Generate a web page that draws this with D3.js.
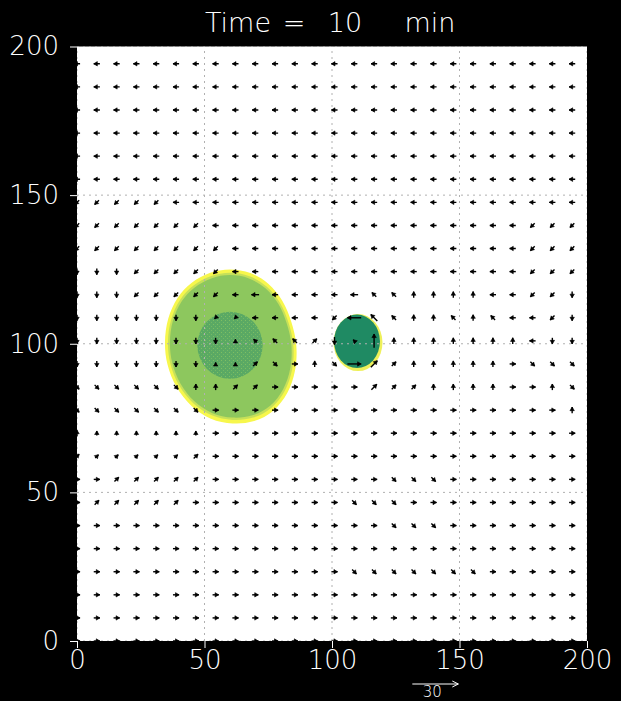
<!DOCTYPE html>
<html><head><meta charset="utf-8">
<script src="https://cdn.jsdelivr.net/npm/d3@7"></script>
<style>html,body{margin:0;padding:0;background:#000;overflow:hidden}</style>
</head><body><svg id="c" width="621" height="701"></svg>
<script>
// ---------- data ----------
const titleParts = ["Time", "=", "10", "min"];
const xTicks = [0, 50, 100, 150, 200];
const yTicks = [0, 50, 100, 150, 200];
const gridStep = 200 / 103 * 4;          // every 4th model point
const nRows = 26;
// direction codes (keypad): 6=E 9=NE 8=N 7=NW 4=W 1=SW 2=S 3=SE ; rows top (y≈194) -> bottom (y=0)
const dirRows = [
  "44444444444444444444444444",
  "44444444444444444444444444",
  "44444444444444444444444444",
  "44444444444444444444444444",
  "44444444444444444444444444",
  "44444444444444444444444444",
  "11111444444444444444444444",
  "11111114444444444444444111",
  "11111111444444444444444111",
  "22211111444444444444444111",
  "22211111444444477888844112",
  "22222221144441477887874412",
  "22222222877792788888888422",
  "22222228893683699888886333",
  "33333388996666699988886683",
  "33333336666666666666666668",
  "88888886666666666666666666",
  "99999996666666666666666666",
  "66999996666666663336666666",
  "69999966666666333666666666",
  "66666666666666663336666666",
  "66666666666666666666666666",
  "66666666666666333333366666",
  "66666666666666666666666666",
  "66666666666666666666666666",
  "66666666666666666666666666"
];
const defaultSpeed = 4;
// [row k (0 = bottom), column, speed]
const speedExceptions = [
  [15, 9, 5], [15, 14, 5], [14, 14, 9], [14, 15, 6], [13, 13, 5], [13, 14, 2],
  [13, 15, 9], [12, 14, 9], [12, 15, 6], [11, 15, 5], [14, 7, 2], [14, 8, 2],
  [13, 8, 2], [12, 7, 2], [12, 8, 2], [13, 9, 3], [9, 1, 3], [9, 2, 3], [9, 3, 3],
  [9, 4, 3], [9, 5, 3], [9, 6, 3], [8, 1, 3], [8, 2, 3], [8, 3, 3], [8, 4, 3], [8, 5, 3]
];
const refSpeed = 30;
const refLabel = "30";
// outer edge of the large cell (x, y in km)
const blobOuter = [[60,125],[68,123.8],[75,120.2],[80.5,114.5],[84,107.5],[86,99.5],[85.5,91],
  [82.5,83.5],[77,77.5],[69.5,74],[61,73.2],[52.5,74.8],[45,79],[39,85.5],[35.5,93],
  [34.5,100.5],[35.8,108.5],[39.5,115.5],[45,120.5],[52,123.8]];
const coreCenter = [60, 99.5], coreRadius = [12.8, 11.3];
const cellCenter = [109.8, 100.8], cellRadius = 9;

// ---------- drawing ----------
const svg = d3.select("#c");
const W = 621, H = 701;
svg.append("rect").attr("width", W).attr("height", H).attr("fill", "#000");
const x = d3.scaleLinear([0, 200], [77, 587]);
const y = d3.scaleLinear([0, 200], [641, 46.5]);
const vecScale = d3.scaleLinear([0, refSpeed], [0, 46]);
const font = "'DejaVu Sans', sans-serif";

// speckle pattern for the core
const defs = svg.append("defs");
const pat = defs.append("pattern").attr("id", "speck").attr("width", 4).attr("height", 4)
  .attr("patternUnits", "userSpaceOnUse");
pat.append("rect").attr("width", 4).attr("height", 4).attr("fill", "#5aa964");
pat.append("rect").attr("x", 1).attr("y", 0).attr("width", 1).attr("height", 1).attr("fill", "#7fbf62");
pat.append("rect").attr("x", 3).attr("y", 2).attr("width", 1).attr("height", 1).attr("fill", "#74b963");

svg.append("rect").attr("x", x(0)).attr("y", y(200)).attr("width", x(200) - x(0))
  .attr("height", y(0) - y(200)).attr("fill", "#fff");
defs.append("clipPath").attr("id", "clip").append("rect")
  .attr("x", x(0)).attr("y", y(200)).attr("width", x(200) - x(0)).attr("height", y(0) - y(200));
const g = svg.append("g").attr("clip-path", "url(#clip)");

// large cell layers
const cx0 = d3.mean(blobOuter, d => d[0]), cy0 = d3.mean(blobOuter, d => d[1]);
const line = d3.line().x(d => x(d[0])).y(d => y(d[1])).curve(d3.curveCatmullRomClosed);
const scaled = s => blobOuter.map(d => [cx0 + (d[0] - cx0) * s, cy0 + (d[1] - cy0) * s]);
[[1, "#f7f74c"], [0.955, "#c6e05a"], [0.925, "#8dc75e"]].forEach(([s, col]) =>
  g.append("path").attr("d", line(scaled(s))).attr("fill", col));
g.append("ellipse").attr("cx", x(coreCenter[0])).attr("cy", y(coreCenter[1]))
  .attr("rx", x(coreRadius[0]) - x(0)).attr("ry", y(0) - y(coreRadius[1])).attr("fill", "url(#speck)");
// small cell
g.append("ellipse").attr("cx", x(cellCenter[0] + 0.4)).attr("cy", y(cellCenter[1] - 0.4))
  .attr("rx", x(cellRadius + 0.6) - x(0)).attr("ry", y(0) - y(cellRadius + 0.6)).attr("fill", "#eef05a");
g.append("ellipse").attr("cx", x(cellCenter[0])).attr("cy", y(cellCenter[1]))
  .attr("rx", x(cellRadius) - x(0)).attr("ry", y(0) - y(cellRadius)).attr("fill", "#1f8a63");

// dotted grid
xTicks.forEach(t => g.append("line").attr("x1", x(t)).attr("x2", x(t)).attr("y1", y(0)).attr("y2", y(200))
  .attr("stroke", "#b0b0b0").attr("stroke-dasharray", "2,4"));
yTicks.forEach(t => g.append("line").attr("y1", y(t)).attr("y2", y(t)).attr("x1", x(0)).attr("x2", x(200))
  .attr("stroke", "#b0b0b0").attr("stroke-dasharray", "2,4"));

// vectors
const angleOf = {"6": 0, "9": 45, "8": 90, "7": 135, "4": 180, "1": 225, "2": 270, "3": 315};
const speedMap = new Map(speedExceptions.map(d => [d[0] + "," + d[1], d[2]]));
const vectors = [];
dirRows.forEach((row, r) => {
  const k = nRows - 1 - r;
  row.split("").forEach((ch, c) => {
    const sp = speedMap.has(k + "," + c) ? speedMap.get(k + "," + c) : defaultSpeed;
    vectors.push({gx: c * gridStep, gy: k * gridStep, ang: angleOf[ch] * Math.PI / 180, sp});
  });
});
function geom(px, py, ang, len) {
  const ux = Math.cos(ang), uy = -Math.sin(ang);
  return {tx: px - ux * len / 2, ty: py - uy * len / 2, hx: px + ux * len / 2, hy: py + uy * len / 2, ux, uy};
}
function shaft(px, py, ang, len) {
  const a = geom(px, py, ang, len);
  return `M${a.tx},${a.ty}L${a.hx},${a.hy}`;
}
function head(px, py, ang, len, hl, hw) {
  const a = geom(px, py, ang, len);
  const bx = a.hx - a.ux * hl, by = a.hy - a.uy * hl;
  const nx = -a.uy * hw, ny = a.ux * hw;
  return `M${a.hx},${a.hy}L${bx + nx},${by + ny}L${bx - nx},${by - ny}Z`;
}
const vg = g.append("g");
vg.selectAll("path.s").data(vectors).join("path").attr("class", "s")
  .attr("d", d => shaft(x(d.gx), y(d.gy), d.ang, vecScale(d.sp)))
  .attr("fill", "none").attr("stroke", "#000").attr("stroke-width", 1.4);
vg.selectAll("path.h").data(vectors).join("path").attr("class", "h")
  .attr("d", d => head(x(d.gx), y(d.gy), d.ang, vecScale(d.sp), 3.6, 2.2))
  .attr("fill", "#000").attr("stroke", "#000").attr("stroke-width", 0.6);

// axes
const ax = svg.append("g").attr("transform", `translate(0,${y(0)})`)
  .call(d3.axisBottom(x).tickValues(xTicks).tickSize(7).tickPadding(3).tickFormat(d3.format("d")));
const ay = svg.append("g").attr("transform", `translate(${x(0)},0)`)
  .call(d3.axisLeft(y).tickValues(yTicks).tickSize(7).tickPadding(11).tickFormat(d3.format("d")));
[ax, ay].forEach(a => {
  a.select(".domain").remove();
  a.selectAll("line").attr("stroke", "#fff");
  a.selectAll("text").attr("fill", "#fff").style("font-family", font)
    .style("font-size", "26px").style("font-weight", 200);
});

// title
const titleX = [238, 294, 345, 430];
const tt = svg.append("text").attr("y", 32).attr("text-anchor", "middle").attr("fill", "#fff")
  .style("font-family", font).style("font-size", "27px").style("font-weight", 200);
titleParts.forEach((p, i) => tt.append("tspan").attr("x", titleX[i]).text(p));

// reference vector
const rx0 = x(131.5), ry0 = 684;
svg.append("path").attr("d", shaft(rx0 + vecScale(refSpeed) / 2, ry0, 0, vecScale(refSpeed)))
  .attr("stroke", "#fff").attr("stroke-width", 1);
svg.append("path").attr("d", `M${rx0 + vecScale(refSpeed) - 6},${ry0 - 3}L${rx0 + vecScale(refSpeed)},${ry0}L${rx0 + vecScale(refSpeed) - 6},${ry0 + 3}`)
  .attr("fill", "none").attr("stroke", "#fff").attr("stroke-width", 1);
svg.append("text").attr("x", rx0 + 20).attr("y", 697).attr("text-anchor", "middle")
  .attr("fill", "#fff").style("font-family", font).style("font-size", "15px").style("font-weight", 200)
  .text(refLabel);
</script></body></html>
